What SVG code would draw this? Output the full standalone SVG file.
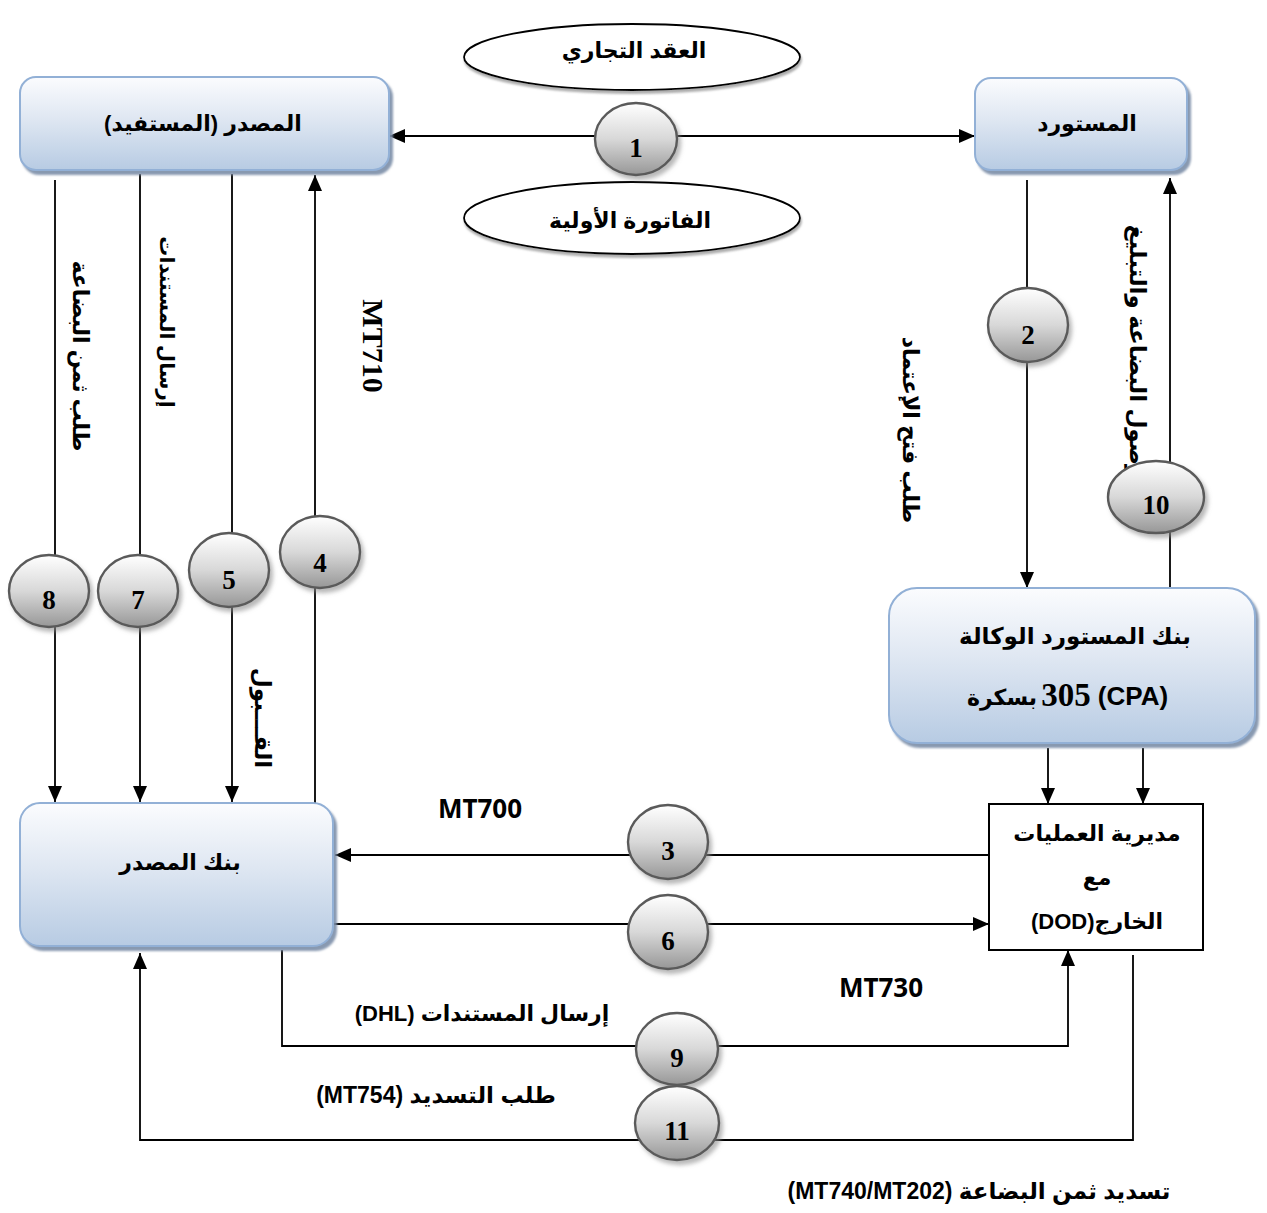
<svg xmlns="http://www.w3.org/2000/svg" width="1267" height="1213" viewBox="0 0 1267 1213">
  <defs>
    <linearGradient id="boxGrad" x1="0" y1="0" x2="0" y2="1">
      <stop offset="0" stop-color="#fbfcfe"/>
      <stop offset="0.45" stop-color="#dfe7f2"/>
      <stop offset="1" stop-color="#b7cbe3"/>
    </linearGradient>
    <linearGradient id="badgeGrad" x1="0" y1="0" x2="0" y2="1">
      <stop offset="0" stop-color="#ffffff"/>
      <stop offset="0.5" stop-color="#d8d8d8"/>
      <stop offset="1" stop-color="#979797"/>
    </linearGradient>
    <filter id="boxShadow" x="-5%" y="-5%" width="112%" height="115%">
      <feDropShadow dx="3" dy="4" stdDeviation="1.2" flood-color="#7c8ea8" flood-opacity="0.9"/>
    </filter>
    <filter id="badgeShadow" x="-20%" y="-20%" width="145%" height="150%">
      <feDropShadow dx="3" dy="4" stdDeviation="2" flood-color="#8a8a8a" flood-opacity="0.6"/>
    </filter>
    <filter id="ovalShadow" x="-5%" y="-10%" width="110%" height="130%">
      <feDropShadow dx="1" dy="3" stdDeviation="1.2" flood-color="#777" flood-opacity="0.6"/>
    </filter>
    <marker id="arrow" markerUnits="userSpaceOnUse" markerWidth="16" markerHeight="14" viewBox="0 0 16 14" refX="16" refY="7" orient="auto-start-reverse">
      <path d="M0,0 L16,7 L0,14 z" fill="#000"/>
    </marker>
  </defs>
  <style>
    .box{fill:url(#boxGrad);stroke:#92b0d6;stroke-width:2;filter:url(#boxShadow)}
    .plain{fill:#fff;stroke:#000;stroke-width:2}
    .oval{fill:#fff;stroke:#000;stroke-width:1.8;filter:url(#ovalShadow)}
    .badge ellipse{fill:url(#badgeGrad);stroke:#5a5a5a;stroke-width:2.4;filter:url(#badgeShadow)}
    .badge text{font-family:"Liberation Serif",serif;font-weight:bold;font-size:27px;text-anchor:middle;fill:#000}
    .ar{font-family:"Liberation Sans","DejaVu Sans",sans-serif;font-weight:bold;font-size:22px;direction:rtl;text-anchor:middle;fill:#000}
    .lat{font-family:"Open Sans","Liberation Sans","DejaVu Sans",sans-serif;font-weight:bold;font-size:26px;text-anchor:middle;fill:#000}
    .vert{dominant-baseline:central}
    .wire{fill:none;stroke:#000;stroke-width:1.8}
    .head{marker-end:url(#arrow)}
  </style>

  <!-- flows between the parties -->
  <g id="connectors">
    <line class="wire" x1="389" y1="136" x2="975" y2="136" marker-start="url(#arrow)" marker-end="url(#arrow)"/>
    <line class="wire head" x1="1027" y1="180" x2="1027" y2="588"/>
    <line class="wire head" x1="1170" y1="588" x2="1170" y2="178"/>
    <line class="wire head" x1="315" y1="803" x2="315" y2="175"/>
    <line class="wire head" x1="232" y1="174" x2="232" y2="802"/>
    <line class="wire head" x1="140" y1="174" x2="140" y2="802"/>
    <line class="wire head" x1="55" y1="180" x2="55" y2="802"/>
    <line class="wire head" x1="1048" y1="748" x2="1048" y2="804"/>
    <line class="wire head" x1="1143" y1="748" x2="1143" y2="804"/>
    <line class="wire head" x1="989" y1="855" x2="335" y2="855"/>
    <line class="wire head" x1="325" y1="924" x2="989" y2="924"/>
    <polyline class="wire head" points="282,950 282,1046 1068,1046 1068,950"/>
    <polyline class="wire head" points="1133,955 1133,1140 140,1140 140,953"/>
  </g>

  <!-- document ovals -->
  <g id="contract">
    <ellipse class="oval" cx="632" cy="57" rx="168" ry="33"/>
    <text class="ar" x="634" y="58">العقد التجاري</text>
  </g>
  <g id="proforma">
    <ellipse class="oval" cx="632" cy="218" rx="168" ry="36"/>
    <text class="ar" x="630" y="228">الفاتورة الأولية</text>
  </g>

  <!-- parties -->
  <g id="exporter">
    <rect class="box" x="20" y="77" width="369" height="93" rx="16"/>
    <text class="ar" x="203" y="131">المصدر (المستفيد)</text>
  </g>
  <g id="importer">
    <rect class="box" x="975" y="78" width="212" height="92" rx="16"/>
    <text class="ar" x="1087" y="131">المستورد</text>
  </g>
  <g id="importer-bank">
    <rect class="box" x="889" y="588" width="366" height="155" rx="28"/>
    <text class="ar" x="1075" y="644" style="font-size:23px">بنك المستورد الوكالة</text>
    <text class="ar" x="1002" y="705" style="font-size:22px">بسكرة</text>
    <text x="1066" y="706" style="font-family:'Liberation Serif',serif;font-weight:bold;font-size:33px;text-anchor:middle">305</text>
    <text x="1133" y="705" style="font-family:'Liberation Sans',sans-serif;font-weight:bold;font-size:26px;text-anchor:middle">(CPA)</text>
  </g>
  <g id="exporter-bank">
    <rect class="box" x="20" y="803" width="313" height="143" rx="20"/>
    <text class="ar" x="180" y="870">بنك المصدر</text>
  </g>
  <g id="dod">
    <rect class="plain" x="989" y="804" width="214" height="146"/>
    <text class="ar" x="1097" y="841">مديرية العمليات</text>
    <text class="ar" x="1097" y="885">مع</text>
    <text class="ar" x="1097" y="929">الخارج(DOD)</text>
  </g>

  <!-- flow labels -->
  <g id="labels">
    <text class="ar vert" transform="translate(80,356) rotate(90)" style="font-size:22px">طلب ثمن البضاعة</text>
    <text class="ar vert" transform="translate(167,322) rotate(90)" style="font-size:20px">إرسال المستندات</text>
    <text class="vert" transform="translate(373,346) rotate(90)" style="font-family:'Liberation Serif',serif;font-weight:bold;font-size:30px;text-anchor:middle">MT710</text>
    <text class="ar vert" transform="translate(263,718) rotate(90)" style="font-size:23px">القـــبول</text>
    <text class="ar vert" transform="translate(910,430) rotate(90)" style="font-size:22px">طلب فتح الإعتماد</text>
    <text class="ar vert" transform="translate(1138,352) rotate(90)" style="font-size:23px">وصول البضاعة والتبليغ</text>
    <text class="lat" x="480" y="818">MT700</text>
    <text class="lat" x="881" y="997">MT730</text>
    <text class="ar" x="482" y="1021">إرسال المستندات (DHL)</text>
    <text class="ar" x="436" y="1103" style="font-size:23px">طلب التسديد (MT754)</text>
    <text class="ar" x="979" y="1199" style="font-size:23px">تسديد ثمن البضاعة (MT740/MT202)</text>
  </g>

  <!-- numbered steps -->
  <g id="step-1" class="badge"><ellipse cx="636" cy="139" rx="41" ry="36"/><text x="636" y="157">1</text></g>
  <g id="step-2" class="badge"><ellipse cx="1028" cy="325" rx="40" ry="37"/><text x="1028" y="344">2</text></g>
  <g id="step-3" class="badge"><ellipse cx="668" cy="842" rx="40" ry="37"/><text x="668" y="860">3</text></g>
  <g id="step-4" class="badge"><ellipse cx="320" cy="552" rx="40" ry="36"/><text x="320" y="572">4</text></g>
  <g id="step-5" class="badge"><ellipse cx="229" cy="570" rx="40" ry="37"/><text x="229" y="589">5</text></g>
  <g id="step-6" class="badge"><ellipse cx="668" cy="932" rx="40" ry="37"/><text x="668" y="950">6</text></g>
  <g id="step-7" class="badge"><ellipse cx="138" cy="591" rx="40" ry="36"/><text x="138" y="609">7</text></g>
  <g id="step-8" class="badge"><ellipse cx="49" cy="591" rx="40" ry="36"/><text x="49" y="609">8</text></g>
  <g id="step-9" class="badge"><ellipse cx="677" cy="1049" rx="41" ry="36"/><text x="677" y="1067">9</text></g>
  <g id="step-10" class="badge"><ellipse cx="1156" cy="497" rx="48" ry="36"/><text x="1156" y="514">10</text></g>
  <g id="step-11" class="badge"><ellipse cx="677" cy="1123" rx="42" ry="37"/><text x="677" y="1140">11</text></g>
</svg>
